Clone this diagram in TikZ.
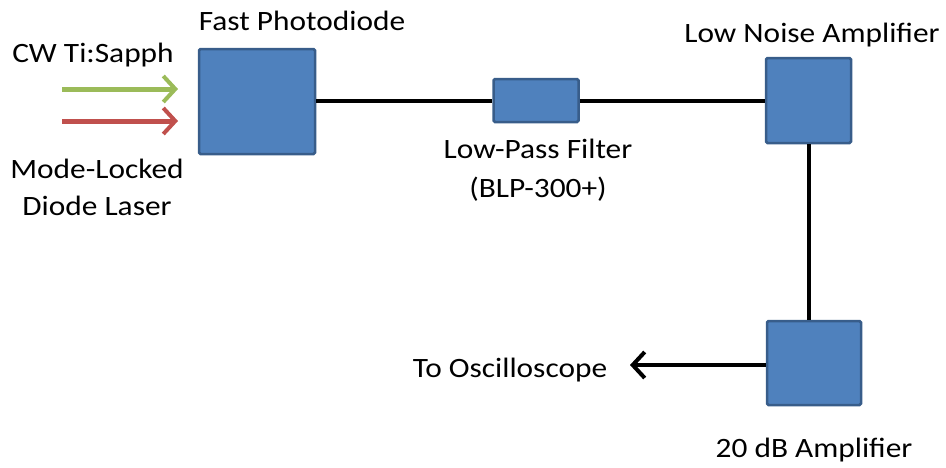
\documentclass[tikz,border=0pt]{standalone}
\usepackage{fontspec}
\setmainfont{Carlito}
\usetikzlibrary{arrows.meta}
\definecolor{boxfill}{HTML}{4F81BD}
\definecolor{boxline}{HTML}{385D8A}
\definecolor{gr}{HTML}{9BBB59}
\definecolor{rd}{HTML}{C0504D}
\newcommand{\wtxt}[1]{\scalebox{1.12}[1]{#1}}
\begin{document}
\begin{tikzpicture}[x=1pt,y=-1pt,
  blk/.style={draw=boxline,fill=boxfill,line width=2.5pt,rounded corners=1.5pt,inner sep=0pt},
  lbl/.style={font=\fontsize{28}{32}\selectfont,inner sep=0pt,anchor=base},
  wire/.style={line width=4pt,black},
  beam/.style={line width=5pt,-{Straight Barb[length=12pt,width=26pt,line width=4pt]}}]
\useasboundingbox (0,0) rectangle (946,467);
\node[blk,minimum width=116pt,minimum height=105pt] (pd) at (257,101.5) {};
\node[blk,minimum width=85pt,minimum height=43pt] (lpf) at (536,100.5) {};
\node[blk,minimum width=85pt,minimum height=85pt] (lna) at (808.5,100.5) {};
\node[blk,minimum width=94pt,minimum height=84pt] (amp) at (814,363) {};
\coordinate (g0) at (62,89);
\coordinate (g1) at (178,89);
\coordinate (r0) at (62,121);
\coordinate (r1) at (178,121);
\coordinate (osc) at (630,365);
\node[lbl] (t1) at (93,62) {\wtxt{CW Ti:Sapph}};
\node[lbl] (t2) at (97,178) {\wtxt{Mode-Locked}};
\node[lbl] (t3) at (97,215) {\wtxt{Diode Laser}};
\node[lbl] (t4) at (302,30) {\wtxt{Fast Photodiode}};
\node[lbl] (t5) at (538,158) {\wtxt{Low-Pass Filter}};
\node[lbl] (t6) at (538,197) {\wtxt{(BLP-300+)}};
\node[lbl] (t7) at (812,42) {\wtxt{Low Noise Amplifier}};
\node[lbl] (t8) at (510,377) {\wtxt{To Oscilloscope}};
\node[lbl] (t9) at (814,457) {\wtxt{20 dB Amplifier}};
\draw[beam,gr] (g0) -- (g1);
\draw[beam,rd] (r0) -- (r1);
\draw[wire] (pd.east |- lpf.west) -- (lpf.west);
\draw[wire] (lpf.east) -- (lna.west);
\draw[wire] (lna.south) -- (lna.south |- amp.north);
\draw[wire,-{Straight Barb[length=12pt,width=26pt,line width=4pt]}] (amp.west |- osc) -- (osc);
\end{tikzpicture}
\end{document}
